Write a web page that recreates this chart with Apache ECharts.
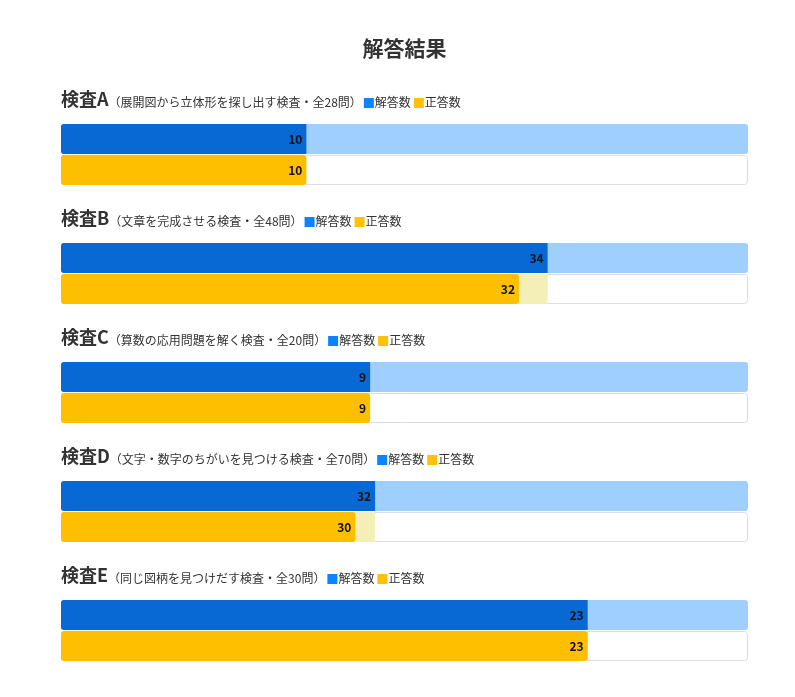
<!DOCTYPE html>
<html>
<head>
<meta charset="utf-8">
<script src="https://cdn.jsdelivr.net/npm/echarts@6/dist/echarts.min.js"></script>
<style>
html,body{margin:0;padding:0;background:#fff;}
#chart{width:795px;height:697px;}
</style>
</head>
<body>
<div id="chart"></div>
<script>
const chartTitle = '解答結果';
const testNames = ['検査A', '検査B', '検査C', '検査D', '検査E'];
const testDescriptions = [
  '（展開図から立体形を探し出す検査・全28問）',
  '（文章を完成させる検査・全48問）',
  '（算数の応用問題を解く検査・全20問）',
  '（文字・数字のちがいを見つける検査・全70問）',
  '（同じ図柄を見つけだす検査・全30問）'
];
const totalQuestions = [28, 48, 20, 70, 30];
const answeredCounts = [10, 34, 9, 32, 23];
const correctCounts = [10, 32, 9, 30, 23];
const legendNames = ['解答数', '正答数'];

const FONT = '"Noto Sans CJK JP", "Noto Sans", sans-serif';
const LEFT = 61, RIGHT = 47;
const headingTop = 100, step = 119, barTopOffset = 23.5;

const titles = [{
  text: chartTitle,
  left: LEFT + (795 - LEFT - RIGHT) / 2,
  textAlign: 'center',
  top: 38,
  padding: 0,
  textStyle: {fontFamily: FONT, fontSize: 21, fontWeight: 'bold', color: '#333'}
}];
const grids = [], xAxes = [], yAxes = [], series = [];

testNames.forEach((name, i) => {
  const hy = headingTop + i * step;
  titles.push({
    left: LEFT,
    top: hy - 16,
    padding: 0,
    text: '{h|' + name + '}{s|' + testDescriptions[i] + '}{b| }{l|' + legendNames[0] + '}{y| }{l|' + legendNames[1] + '}',
    textStyle: {
      fontFamily: FONT,
      fontWeight: 'normal',
      rich: {
        h: {fontFamily: FONT, fontSize: 18, fontWeight: 'bold', color: '#333', verticalAlign: 'bottom', lineHeight: 24},
        s: {fontFamily: FONT, fontSize: 12, fontWeight: 'normal', color: '#333', verticalAlign: 'bottom', lineHeight: 21, padding: [0, 2, 0, 0]},
        l: {fontFamily: FONT, fontSize: 12, fontWeight: 'normal', color: '#333', verticalAlign: 'bottom', lineHeight: 21, padding: [0, 3, 0, 1]},
        b: {width: 10, height: 10, backgroundColor: '#0a84ff', verticalAlign: 'bottom', lineHeight: 10},
        y: {width: 10, height: 10, backgroundColor: '#ffc107', verticalAlign: 'bottom', lineHeight: 10}
      }
    }
  });
  grids.push({left: LEFT, right: RIGHT, top: hy + barTopOffset, height: 62, containLabel: false});
  xAxes.push({type: 'value', gridIndex: i, min: 0, max: totalQuestions[i], show: false});
  yAxes.push({type: 'category', gridIndex: i, data: legendNames, inverse: true, show: false});
  series.push({
    type: 'bar', xAxisIndex: i, yAxisIndex: i, barWidth: 30, barGap: '-100%', silent: true,
    data: [
      {value: totalQuestions[i], itemStyle: {color: '#9ecfff', borderRadius: 3}},
      {value: totalQuestions[i], itemStyle: {color: '#ffffff', borderColor: '#dcdde0', borderWidth: 1, borderRadius: 3}}
    ]
  });
  series.push({
    type: 'bar', xAxisIndex: i, yAxisIndex: i, barWidth: 30, barGap: '-100%', silent: true,
    data: ['-', {value: answeredCounts[i], itemStyle: {color: '#f3efb6', borderRadius: [3, 0, 0, 3]}}]
  });
  series.push({
    type: 'bar', xAxisIndex: i, yAxisIndex: i, barWidth: 30, barGap: '-100%', silent: true,
    label: {show: true, position: 'insideRight', distance: 4, fontFamily: FONT, fontSize: 12, fontWeight: 'bold', color: '#111'},
    data: [
      {value: answeredCounts[i], itemStyle: {color: '#0868d4', borderRadius: [3, 0, 0, 3]}},
      {value: correctCounts[i], itemStyle: {color: '#fdbf00', borderRadius: 3}}
    ]
  });
});

const chart = echarts.init(document.getElementById('chart'));
chart.setOption({
  animation: false,
  backgroundColor: '#fff',
  title: titles,
  grid: grids,
  xAxis: xAxes,
  yAxis: yAxes,
  series: series
});
</script>
</body>
</html>
